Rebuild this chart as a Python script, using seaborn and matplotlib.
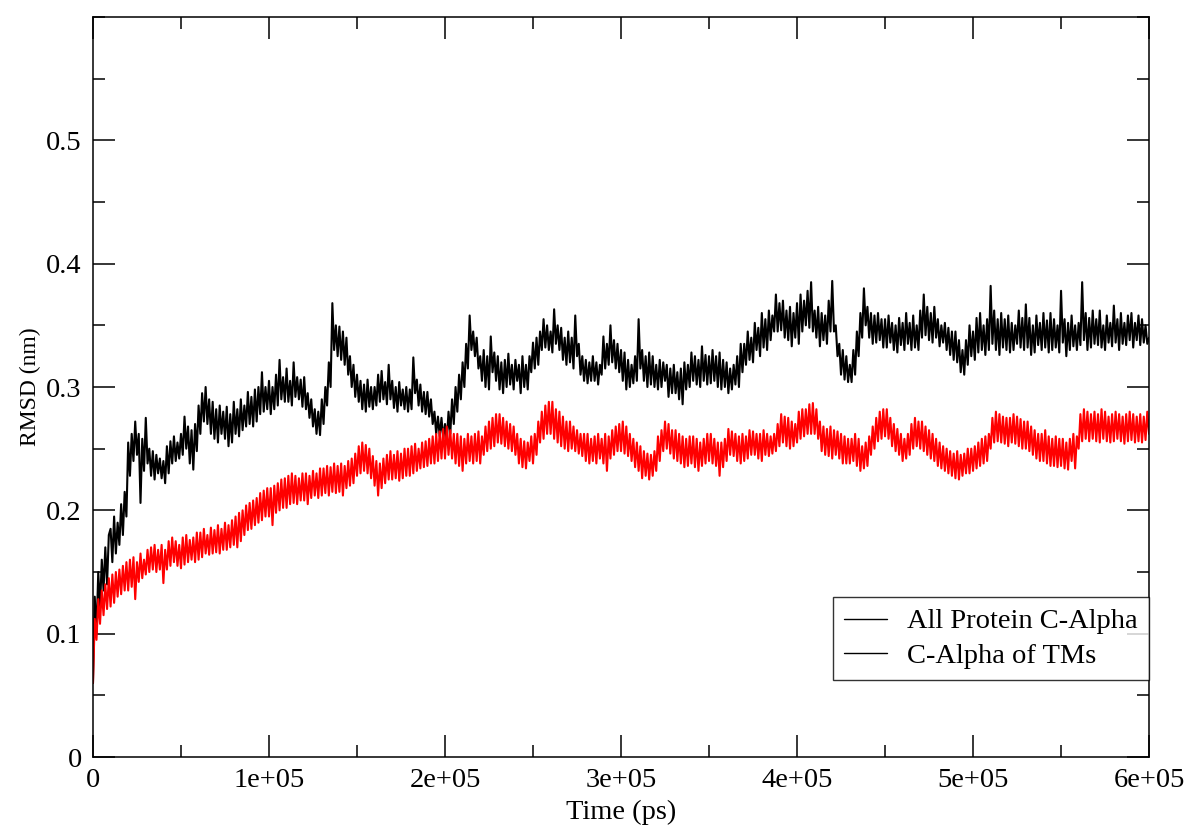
import numpy as np
import pandas as pd
import matplotlib
matplotlib.use("Agg")
import matplotlib.pyplot as plt
import seaborn as sns
from matplotlib.lines import Line2D
from matplotlib.ticker import FixedLocator, FixedFormatter, MultipleLocator

# one sample every 1000 ps, RMSD in units of 1e-3 nm
time_step_ps = 1000

all_protein_ca = [
    60, 130, 100, 150, 120, 160, 135, 170, 140, 180,
    185, 158, 195, 165, 190, 172, 205, 180, 215, 195,
    255, 228, 262, 240, 272, 245, 262, 206, 258, 232,
    275, 238, 250, 228, 248, 225, 245, 230, 242, 226,
    240, 222, 252, 230, 256, 238, 260, 240, 255, 242,
    262, 245, 276, 250, 268, 238, 265, 233, 270, 248,
    285, 262, 295, 272, 300, 270, 290, 262, 288, 258,
    282, 255, 285, 262, 280, 258, 284, 252, 278, 255,
    288, 262, 282, 260, 290, 265, 285, 268, 296, 270,
    292, 268, 298, 272, 300, 278, 312, 280, 300, 282,
    305, 278, 300, 282, 310, 285, 322, 290, 308, 288,
    315, 288, 305, 285, 320, 292, 308, 290, 306, 284,
    308, 282, 295, 275, 290, 268, 282, 262, 280, 261,
    290, 270, 300, 285, 320, 300, 368, 330, 350, 325,
    349, 322, 345, 318, 340, 310, 325, 300, 318, 292,
    310, 288, 305, 282, 302, 280, 306, 284, 300, 282,
    300, 285, 310, 288, 313, 290, 304, 286, 318, 290,
    305, 283, 300, 280, 304, 285, 298, 282, 300, 280,
    298, 282, 324, 295, 306, 285, 302, 280, 296, 278,
    296, 276, 290, 270, 280, 262, 276, 260, 275, 258,
    270, 256, 280, 262, 290, 270, 300, 280, 310, 290,
    320, 300, 335, 315, 358, 330, 345, 325, 340, 315,
    325, 305, 330, 300, 325, 298, 341, 312, 328, 305,
    325, 298, 320, 295, 322, 300, 327, 302, 318, 298,
    322, 305, 318, 295, 325, 300, 318, 298, 325, 312,
    336, 315, 340, 318, 345, 330, 355, 332, 350, 330,
    345, 328, 363, 335, 350, 330, 348, 322, 340, 318,
    345, 320, 340, 315, 358, 325, 335, 310, 325, 305,
    322, 303, 320, 305, 325, 305, 320, 302, 318, 310,
    341, 315, 335, 318, 350, 320, 338, 315, 335, 312,
    330, 305, 328, 298, 322, 300, 318, 303, 325, 305,
    355, 315, 330, 305, 325, 300, 328, 302, 325, 300,
    318, 298, 322, 300, 320, 305, 318, 292, 315, 295,
    318, 295, 312, 290, 315, 286, 320, 298, 318, 300,
    328, 305, 325, 302, 322, 300, 333, 305, 326, 302,
    325, 303, 330, 305, 325, 300, 328, 298, 322, 300,
    320, 295, 315, 298, 318, 302, 325, 300, 335, 312,
    335, 318, 345, 322, 340, 320, 352, 330, 348, 325,
    360, 332, 355, 330, 362, 338, 358, 345, 375, 345,
    368, 346, 370, 340, 362, 338, 365, 333, 360, 340,
    368, 335, 375, 345, 370, 350, 378, 348, 385, 345,
    362, 340, 365, 333, 360, 338, 358, 335, 370, 345,
    386, 345, 350, 325, 335, 310, 330, 306, 325, 304,
    318, 304, 330, 310, 345, 325, 360, 340, 380, 350,
    365, 340, 360, 335, 358, 336, 360, 338, 355, 332,
    355, 332, 358, 336, 352, 330, 350, 328, 356, 334,
    352, 330, 360, 335, 352, 330, 358, 332, 350, 330,
    362, 340, 375, 342, 365, 338, 360, 336, 365, 340,
    355, 333, 350, 336, 352, 330, 348, 326, 345, 322,
    345, 320, 338, 312, 330, 310, 338, 318, 350, 325,
    345, 322, 356, 328, 360, 330, 350, 326, 355, 330,
    382, 335, 362, 330, 355, 326, 360, 332, 355, 330,
    358, 328, 352, 330, 350, 335, 362, 332, 356, 330,
    367, 332, 356, 326, 350, 328, 358, 334, 352, 330,
    360, 332, 354, 328, 360, 330, 355, 332, 350, 328,
    378, 336, 355, 325, 352, 330, 358, 333, 350, 330,
    352, 334, 385, 338, 360, 330, 356, 332, 362, 335,
    355, 334, 362, 332, 350, 330, 358, 336, 352, 333,
    366, 336, 355, 330, 360, 335, 352, 334, 358, 338,
    360, 332, 352, 338, 358, 334, 355, 336, 350, 335,
    340,
]

tm_ca = [
    60, 112, 95, 128, 108, 135, 115, 140, 120, 145,
    122, 148, 125, 150, 130, 152, 132, 155, 135, 158,
    135, 160, 138, 162, 128, 158, 142, 165, 145, 160,
    148, 168, 150, 170, 152, 172, 150, 168, 152, 172,
    141, 168, 152, 175, 155, 178, 158, 175, 155, 172,
    153, 178, 156, 180, 158, 176, 160, 178, 158, 182,
    160, 182, 162, 185, 165, 180, 164, 186, 165, 184,
    166, 188, 165, 185, 168, 190, 168, 188, 170, 192,
    172, 195, 170, 198, 175, 200, 180, 204, 184, 206,
    185, 208, 188, 210, 190, 214, 192, 216, 195, 218,
    195, 218, 188, 220, 198, 222, 200, 225, 202, 226,
    202, 228, 205, 230, 206, 228, 205, 226, 208, 230,
    208, 230, 205, 228, 210, 232, 212, 230, 210, 234,
    212, 234, 214, 236, 212, 235, 215, 238, 214, 236,
    215, 238, 212, 236, 218, 240, 220, 242, 222, 246,
    228, 252, 230, 255, 232, 253, 230, 250, 226, 244,
    220, 240, 212, 238, 218, 242, 222, 245, 225, 248,
    225, 245, 226, 248, 224, 246, 226, 250, 228, 250,
    228, 252, 230, 254, 232, 250, 234, 255, 235, 256,
    236, 258, 238, 260, 238, 262, 240, 264, 242, 266,
    242, 268, 245, 265, 242, 262, 238, 262, 236, 260,
    232, 258, 238, 262, 240, 260, 238, 262, 240, 264,
    238, 260, 245, 268, 248, 272, 250, 275, 252, 278,
    255, 278, 254, 275, 252, 272, 250, 270, 248, 268,
    245, 262, 238, 258, 235, 256, 234, 255, 240, 260,
    238, 262, 245, 272, 255, 280, 258, 285, 262, 288,
    262, 288, 258, 282, 255, 280, 252, 276, 250, 272,
    248, 272, 250, 268, 248, 265, 246, 262, 244, 262,
    240, 262, 238, 258, 240, 260, 238, 262, 242, 258,
    238, 262, 232, 260, 242, 265, 245, 268, 248, 270,
    248, 272, 246, 268, 244, 262, 240, 258, 235, 255,
    232, 252, 226, 248, 228, 246, 225, 245, 228, 248,
    232, 260, 240, 265, 248, 272, 250, 270, 246, 265,
    242, 265, 240, 262, 238, 260, 235, 258, 236, 260,
    238, 260, 235, 258, 232, 255, 236, 258, 238, 262,
    240, 262, 238, 258, 236, 255, 228, 255, 235, 258,
    240, 266, 245, 264, 244, 262, 240, 260, 238, 262,
    240, 260, 242, 265, 245, 264, 245, 262, 242, 262,
    240, 265, 245, 262, 244, 260, 246, 262, 248, 270,
    252, 278, 255, 276, 252, 275, 250, 272, 252, 270,
    255, 280, 258, 282, 260, 282, 262, 286, 262, 287,
    262, 282, 258, 272, 248, 268, 245, 266, 244, 268,
    242, 265, 245, 264, 242, 262, 238, 260, 238, 258,
    238, 258, 240, 262, 236, 258, 232, 252, 234, 255,
    236, 260, 245, 268, 250, 275, 256, 280, 258, 282,
    260, 282, 258, 275, 252, 270, 248, 266, 245, 262,
    240, 258, 242, 262, 245, 270, 250, 275, 252, 272,
    250, 272, 248, 268, 245, 265, 242, 262, 240, 258,
    236, 255, 234, 252, 232, 250, 230, 248, 228, 246,
    226, 248, 225, 245, 228, 246, 230, 250, 230, 250,
    232, 252, 234, 255, 236, 258, 238, 260, 240, 262,
    250, 275, 255, 280, 256, 278, 255, 276, 254, 275,
    252, 275, 255, 278, 254, 276, 252, 274, 250, 272,
    250, 272, 248, 268, 245, 265, 242, 262, 240, 262,
    240, 265, 238, 260, 236, 258, 236, 260, 235, 258,
    236, 258, 234, 255, 233, 258, 240, 262, 234, 260,
    250, 278, 256, 282, 258, 280, 256, 278, 258, 280,
    256, 278, 255, 282, 258, 280, 256, 276, 255, 278,
    256, 280, 258, 278, 256, 276, 254, 278, 256, 280,
    257, 278, 255, 276, 256, 278, 255, 276, 257, 280,
    262,
]

series_labels = ["All Protein C-Alpha", "C-Alpha of TMs"]
series_colors = ["black", "red"]

x_ticks = [0, 100000, 200000, 300000, 400000, 500000, 600000]
x_tick_labels = ["0", "1e+05", "2e+05", "3e+05", "4e+05", "5e+05", "6e+05"]
y_ticks = [0, 0.1, 0.2, 0.3, 0.4, 0.5]
y_tick_labels = ["0", "0.1", "0.2", "0.3", "0.4", "0.5"]

frames = []
for name, vals in zip(series_labels, [all_protein_ca, tm_ca]):
    vals = np.array(vals) / 1000.0
    frames.append(pd.DataFrame({
        "time": np.arange(len(vals)) * time_step_ps,
        "rmsd": vals,
        "set": name,
    }))
df = pd.concat(frames, ignore_index=True)

sns.set_theme(style="ticks")
plt.rcParams["font.family"] = ["Liberation Serif", "DejaVu Serif"]
plt.rcParams["text.color"] = "black"
plt.rcParams["axes.labelcolor"] = "black"

fig = plt.figure(figsize=(11.89, 8.25), dpi=100)
ax = fig.add_axes([0.0782, 0.0824, 0.8882, 0.897])

for name, col in zip(series_labels, series_colors):
    sub = df[df["set"] == name]
    sns.lineplot(data=sub, x="time", y="rmsd", color=col, lw=1.5,
                 estimator=None, sort=False, ax=ax, legend=False)

ax.set_xlim(0, 600000)
ax.set_ylim(0, 0.6)

ax.xaxis.set_major_locator(FixedLocator(x_ticks))
ax.xaxis.set_major_formatter(FixedFormatter(x_tick_labels))
ax.xaxis.set_minor_locator(MultipleLocator(50000))
ax.yaxis.set_major_locator(FixedLocator(y_ticks))
ax.yaxis.set_major_formatter(FixedFormatter(y_tick_labels))
ax.yaxis.set_minor_locator(MultipleLocator(0.05))

ax.tick_params(which="both", direction="in", top=True, right=True,
               width=1.1, colors="black", labelsize=20.5, pad=8)
ax.tick_params(which="major", length=16)
ax.tick_params(which="minor", length=8.5)
for sp in ax.spines.values():
    sp.set_linewidth(1.1)
    sp.set_color("black")

ax.set_xlabel("Time (ps)", fontsize=20.5, labelpad=5, color="black")
ax.set_ylabel("RMSD (nm)", fontsize=17, labelpad=4, color="black")

handles = [Line2D([], [], color="black", lw=1.0) for _ in series_labels]
leg = ax.legend(handles, series_labels, loc="upper right",
                bbox_to_anchor=(1.0, 0.216), borderaxespad=0,
                fontsize=20.5, frameon=True, fancybox=False,
                handlelength=1.5, handletextpad=0.7, borderpad=0.4,
                labelspacing=0.3)
leg.get_frame().set_edgecolor("black")
leg.get_frame().set_linewidth(1.0)
for t in leg.get_texts():
    t.set_color("black")

fig.savefig("out.png", dpi=100)
